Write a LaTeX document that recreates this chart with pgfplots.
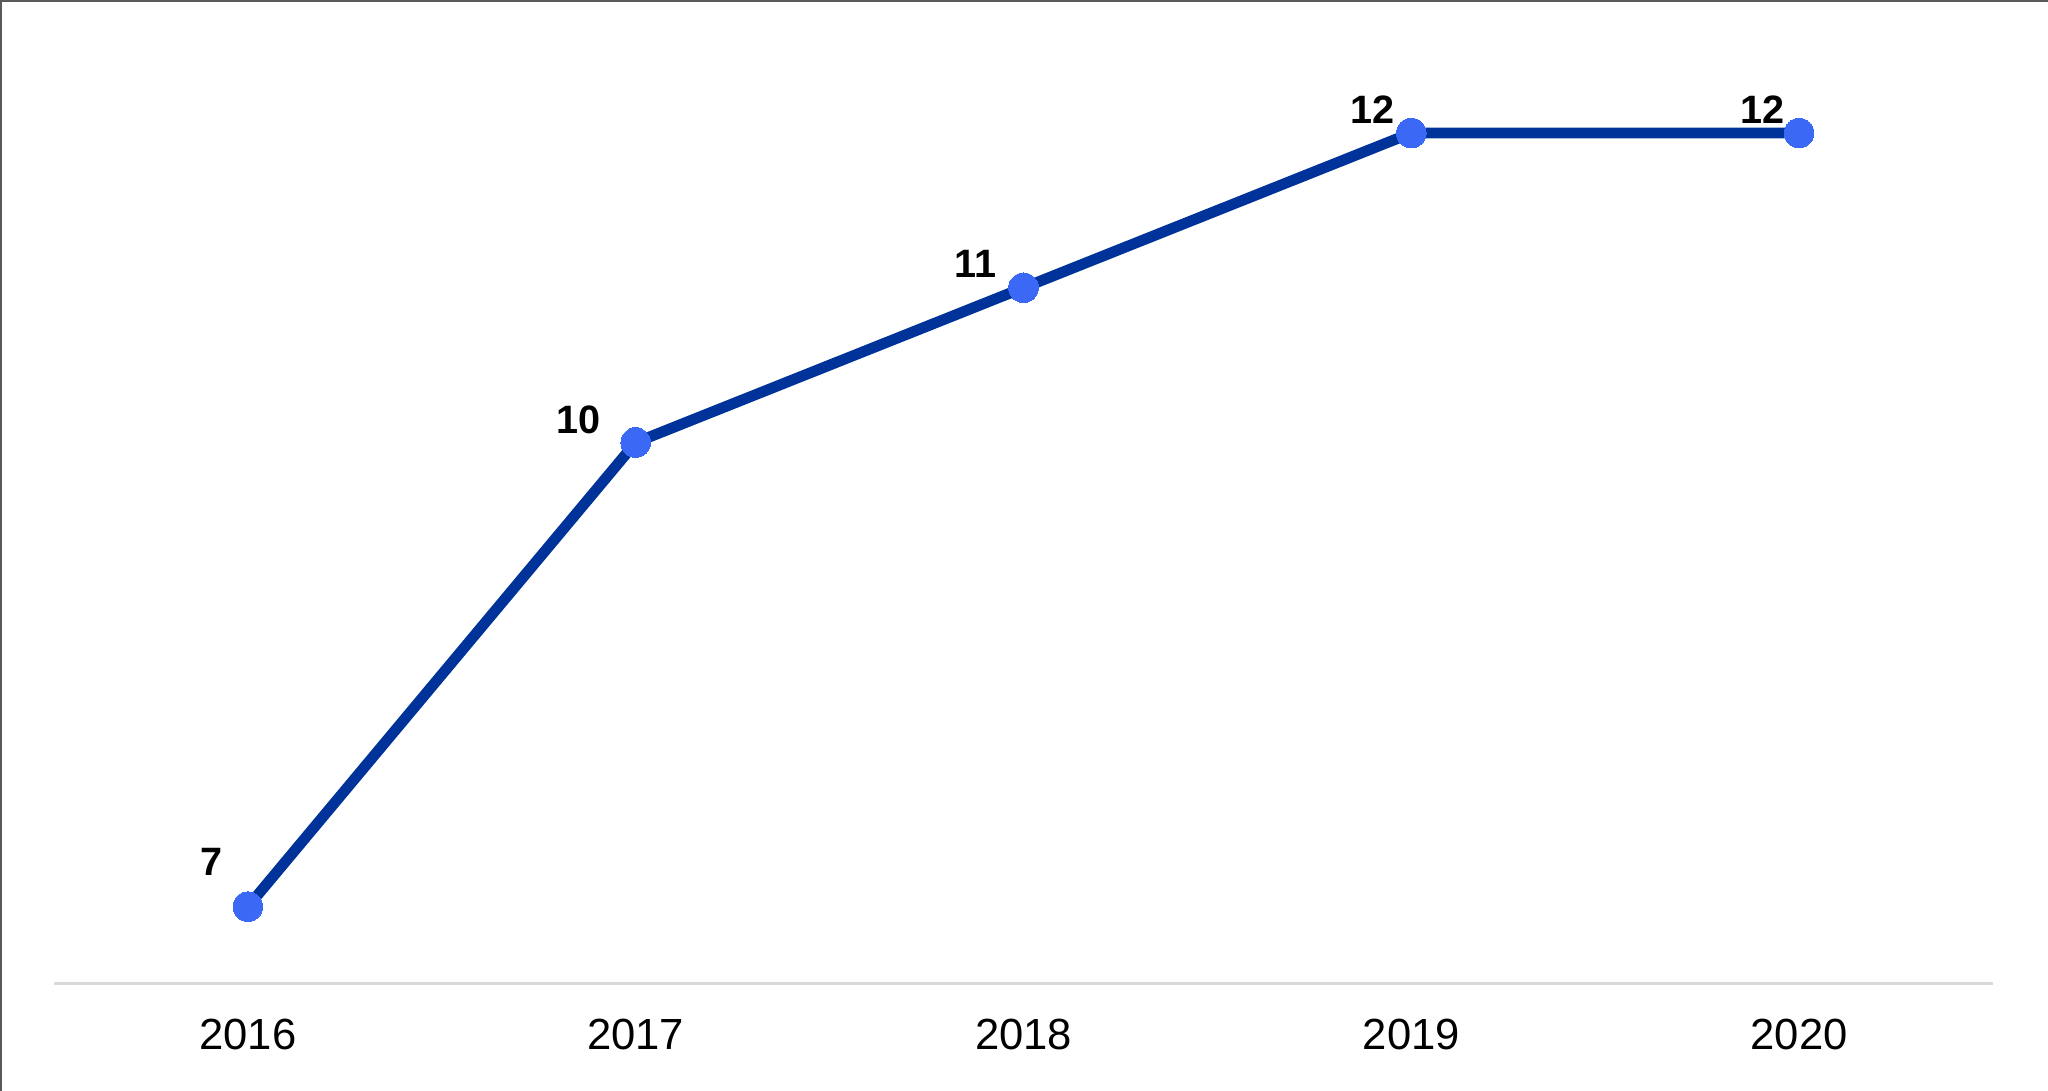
\documentclass[border=0pt]{standalone}
\usepackage{fontspec}
\setmainfont{Liberation Sans}
\usepackage{pgfplots}
\usepackage{pgfplotstable}
\pgfplotsset{compat=1.18}
\definecolor{linecol}{RGB}{0,51,153}
\definecolor{markcol}{RGB}{59,105,245}
\definecolor{axcol}{RGB}{217,217,217}
\definecolor{bordercol}{RGB}{90,90,90}
\pgfplotstableread{
x y dx dy
0 7 -6.25 7.75
1 10 -8.75 2.25
2 11 -6.75 2.5
3 12 -4.25 2.5
4 12 -3.75 2.5
}\datatable
\begin{document}
\begin{tikzpicture}
\useasboundingbox (0,0) rectangle (512pt,272.75pt);
\draw[bordercol, line width=0.5pt] (0.25pt,0) -- (0.25pt,272.5pt) -- (512pt,272.5pt);
\begin{axis}[
  at={(13.5pt,26.75pt)}, anchor=south west,
  scale only axis, width=484.75pt, height=246pt,
  xmin=-0.5, xmax=4.5, ymin=6.5, ymax=12.86,
  axis x line*=bottom, axis y line=none,
  axis line style={draw=axcol, line width=0.75pt, -},
  xtick={0,1,2,3,4}, xticklabels={2016,2017,2018,2019,2020},
  major tick length=0pt,
  xticklabel style={font=\fontsize{10.9}{12}\selectfont, text=black, yshift=-5.3pt},
  ytick=\empty,
  clip=false,
  /pgf/number format/assume math mode=true,
]
\addplot[color=linecol, line width=2.7pt, mark=*, mark size=3.7pt,
  mark options={fill=markcol, draw=markcol, line width=0pt},
  point meta=y,
  nodes near coords={\pgfmathprintnumber{\pgfplotspointmeta}},
  visualization depends on={\thisrow{dx} \as \dx},
  visualization depends on={\thisrow{dy} \as \dy},
  every node near coord/.append style={anchor=south east, inner sep=0pt,
    font=\fontsize{9.9}{11}\selectfont\bfseries, text=black,
    xshift=\dx pt, yshift=\dy pt},
] table[x=x, y=y] {\datatable};
\end{axis}
\end{tikzpicture}
\end{document}
